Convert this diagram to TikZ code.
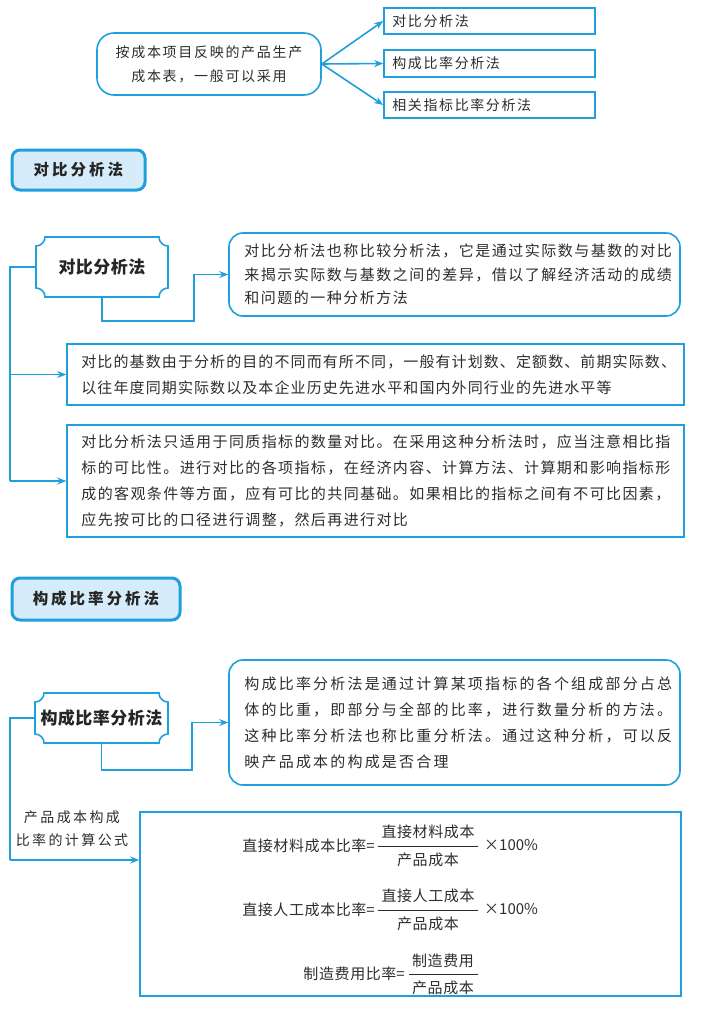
\documentclass[tikz,border=0pt]{standalone}
\usepackage{fontspec}
\usetikzlibrary{arrows.meta,calc}
\newfontfamily\cjk{Noto Sans CJK SC}
\definecolor{lineblue}{RGB}{30,160,220}
\definecolor{hdrfill}{RGB}{214,236,250}
\definecolor{txt}{RGB}{45,45,45}
\XeTeXinterchartokenstate=1
\newcount\cjkcc
\cjkcc="4E00
\loop \XeTeXcharclass\cjkcc=1 \advance\cjkcc by 1 \ifnum\cjkcc<"A000 \repeat
\XeTeXcharclass"3001=1 \XeTeXcharclass"3002=1 \XeTeXcharclass"FF0C=1
\XeTeXcharclass"FF1A=1 \XeTeXcharclass"FF1B=1
\newdimen\cjkgap
\cjkgap=1.4pt
\XeTeXinterchartoks 1 1 = {\hskip\cjkgap\relax}
\newcommand\notchshape[5]{%
  \draw[ln] (#1+#5,#2) -- (#3-#5,#2) arc[start angle=180,end angle=90,radius=#5]
    -- (#3,#4-#5) arc[start angle=-90,end angle=-180,radius=#5]
    -- (#1+#5,#4) arc[start angle=0,end angle=-90,radius=#5]
    -- (#1,#2+#5) arc[start angle=90,end angle=0,radius=#5] -- cycle;}
\tikzset{
  ln/.style={draw=lineblue, line width=1.6pt},
  arr/.style={ln, -{Stealth[length=9pt,width=7pt]}},
  sqbox/.style={draw=lineblue, line width=1.6pt, inner sep=0pt},
  rbox/.style={sqbox, rounded corners=14pt},
  hdr/.style={draw=lineblue, line width=3pt, fill=hdrfill, rounded corners=8pt, inner sep=0pt,
    text=black!85, font={\cjk\bfseries\fontsize{15.5}{18}\selectfont\cjkgap=3pt}},
  sect/.style={inner sep=0pt, text=black!85, font={\cjk\bfseries\fontsize{17}{20}\selectfont\cjkgap=0.5pt}},
  body/.style={inner sep=0pt, anchor=west, align=left, text=txt},
  form/.style={inner sep=0pt, text=txt, font={\cjk\fontsize{15}{18}\selectfont\cjkgap=0.6pt}},
}
\begin{document}
\begin{tikzpicture}[x=1pt,y=-1pt]
\useasboundingbox (0,0) rectangle (704,1010);
% ---------- top overview ----------
\node[rbox, rounded corners=17pt, minimum width=224, minimum height=62, align=center, text=txt,
  font={\cjk\fontsize{14}{24}\selectfont\cjkgap=1.7pt}] (n0) at (209,64)
  {按成本项目反映的产品生产\\成本表，一般可以采用};
\node[sqbox, minimum width=211, minimum height=26] (a1) at (489.5,21) {};
\node[sqbox, minimum width=211, minimum height=27] (a2) at (489.5,63.5) {};
\node[sqbox, minimum width=211, minimum height=26] (a3) at (489.5,105) {};
\node[body, font={\cjk\fontsize{14}{18}\selectfont\cjkgap=1.6pt}] (a1t) at ($(a1.west)+(9,0)$) {对比分析法};
\node[body, font={\cjk\fontsize{14}{18}\selectfont\cjkgap=1.6pt}] (a2t) at ($(a2.west)+(9,0)$) {构成比率分析法};
\node[body, font={\cjk\fontsize{14}{18}\selectfont\cjkgap=1.6pt}] (a3t) at ($(a3.west)+(9,0)$) {相关指标比率分析法};
\draw[arr] (n0.east) -- (a1.west);
\draw[arr] (n0.east) -- (a2.west);
\draw[arr] (n0.east) -- (a3.west);
% ---------- section 1 ----------
\node[hdr, minimum width=133, minimum height=40] (h1) at (78.5,170) {对比分析法};
\notchshape{36}{237}{168}{297}{9}
\node[sect, minimum width=132, minimum height=60] (s1) at (102,267) {对比分析法};
\node[rbox, minimum width=451, minimum height=83] (b1) at (454.5,274.5) {};
\node[body, font={\cjk\fontsize{15}{23.5}\selectfont\cjkgap=1.5pt}] (b1t) at ($(b1.west)+(16,0)$)
  {对比分析法也称比较分析法，它是通过实际数与基数的对比\\来揭示实际数与基数之间的差异，借以了解经济活动的成绩\\和问题的一种分析方法};
\draw[arr] (s1.south) -- ++(0,24) -| ($(b1.west)+(-34,0)$) -- (b1.west);
\node[sqbox, minimum width=617, minimum height=61] (b2) at (375.5,374.5) {};
\node[body, font={\cjk\fontsize{15}{26}\selectfont\cjkgap=1.1pt}] (b2t) at ($(b2.west)+(15,0)$)
  {对比的基数由于分析的目的不同而有所不同，一般有计划数、定额数、前期实际数、\\以往年度同期实际数以及本企业历史先进水平和国内外同行业的先进水平等};
\node[sqbox, minimum width=617, minimum height=112] (b3) at (375.5,481) {};
\node[body, font={\cjk\fontsize{15}{26}\selectfont\cjkgap=1.4pt}] (b3t) at ($(b3.west)+(15,0)$)
  {对比分析法只适用于同质指标的数量对比。在采用这种分析法时，应当注意相比指\\标的可比性。进行对比的各项指标，在经济内容、计算方法、计算期和影响指标形\\成的客观条件等方面，应有可比的共同基础。如果相比的指标之间有不可比因素，\\应先按可比的口径进行调整，然后再进行对比};
\coordinate (v1) at (10,481);
\draw[ln] (s1.west) -| (v1);
\draw[arr] (v1 |- b2.west) -- (b2.west);
\draw[arr] (v1) -- (b3.west);
% ---------- section 2 ----------
\node[hdr, minimum width=168, minimum height=42] (h2) at (96,599) {构成比率分析法};
\notchshape{35}{693}{168}{743}{9}
\node[sect, minimum width=133, minimum height=50] (s2) at (101.5,718) {构成比率分析法};
\node[rbox, minimum width=451, minimum height=125] (b4) at (454.5,722.5) {};
\node[body, font={\cjk\fontsize{15}{26}\selectfont\cjkgap=2.2pt}] (b4t) at ($(b4.west)+(16,0)$)
  {构成比率分析法是通过计算某项指标的各个组成部分占总\\体的比重，即部分与全部的比率，进行数量分析的方法。\\这种比率分析法也称比重分析法。通过这种分析，可以反\\映产品成本的构成是否合理};
\draw[arr] (s2.south) -- ++(0,27) -| ($(b4.west)+(-36,0)$) -- (b4.west);
\node[sqbox, minimum width=541, minimum height=184] (b5) at (410.5,904) {};
\coordinate (v2) at (10,860);
\draw[ln] (s2.west) -| (v2);
\draw[arr] (v2) -- (v2 -| b5.west);
\node[inner sep=0pt, align=center, text=txt, font={\cjk\fontsize{14}{23}\selectfont\cjkgap=2.4pt}] (lbl) at (72,829)
  {产品成本构成\\比率的计算公式};
% formulas
\node[form, anchor=east] (f1l) at (375,846) {直接材料成本比率=};
\node[form] (f1n) at (428,832) {直接材料成本};
\node[form] (f1d) at (428,860) {产品成本};
\draw[draw=txt, line width=1pt] (378,846) -- (478,846);
\node[form, anchor=west] (f1x) at (484,845) {×100\%};
\node[form, anchor=east] (f2l) at (375,910) {直接人工成本比率=};
\node[form] (f2n) at (428,896) {直接人工成本};
\node[form] (f2d) at (428,924) {产品成本};
\draw[draw=txt, line width=1pt] (378,910) -- (478,910);
\node[form, anchor=west] (f2x) at (484,909) {×100\%};
\node[form, anchor=east] (f3l) at (405,974) {制造费用比率=};
\node[form] (f3n) at (443,961) {制造费用};
\node[form] (f3d) at (443,988) {产品成本};
\draw[draw=txt, line width=1pt] (409,974) -- (478,974);
\end{tikzpicture}
\end{document}
